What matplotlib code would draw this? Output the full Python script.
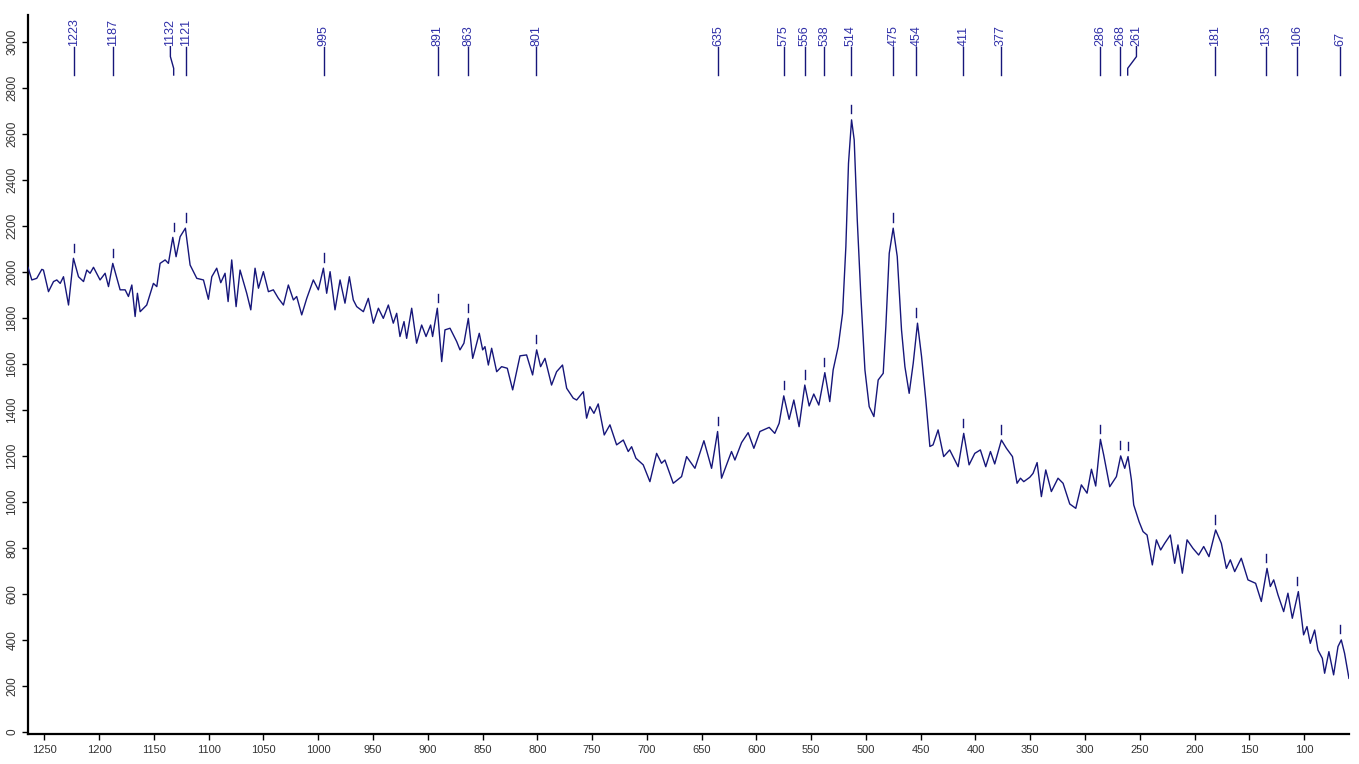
import numpy as np
import matplotlib.pyplot as plt

# Raman shift (cm-1) and counts, high shift -> low shift
WAVENUMBER = [
    1265, 1261.5, 1257, 1252.4, 1250.9, 1246.3, 1241.7, 1238.7, 1235.6, 1232.6,
    1228, 1223.5, 1218.9, 1214.3, 1211.3, 1208.3, 1205.2, 1199.2, 1194.6, 1191.5,
    1187.6, 1180.9, 1176.3, 1173.3, 1170.2, 1167.2, 1165.1, 1162.6, 1156.6, 1150.5,
    1147.4, 1144.4, 1139.8, 1136.8, 1132.8, 1129.8, 1126.1, 1121.3, 1117, 1110.9,
    1104.8, 1100.3, 1097.2, 1092.7, 1089, 1085.1, 1082.3, 1079, 1075, 1071.4,
    1065.3, 1061.6, 1057.7, 1054.6, 1050.1, 1045.5, 1041, 1036.4, 1031.8, 1027.3,
    1022.7, 1019.7, 1015.1, 1010.5, 1004.5, 999.9, 995.3, 992.3, 989.2, 984.7,
    980.1, 975.6, 971.6, 968, 964.9, 958.8, 954.3, 949.7, 945.1, 940.6,
    936, 931.5, 928.4, 925.4, 921.7, 919.3, 914.7, 910.2, 905.6, 901.6,
    897.4, 895.6, 891.3, 887.3, 884.3, 879.7, 873.6, 870.6, 867, 863,
    859, 856.9, 853, 849.9, 847.8, 844.7, 841.7, 837.1, 832.6, 827.4,
    822.5, 815.8, 809.8, 804.3, 800.6, 797, 793, 787, 782.4, 777,
    773.2, 767.2, 764.1, 761.7, 758, 755, 752, 748.3, 744.4, 738.9,
    733.7, 727.6, 721.5, 717, 713.9, 710, 703.3, 697.2, 691.1, 686.6,
    683.5, 675.9, 668.3, 663.7, 656.1, 647.9, 640.9, 635.4, 631.8, 627.2,
    622.7, 619.6, 613.5, 607.5, 602.3, 596.8, 588.3, 583.2, 579.2, 575,
    570.1, 565.8, 561, 555.8, 551.8, 547.6, 543, 537.5, 533, 529.9,
    525.3, 521.3, 518.3, 515.9, 513.1, 510.7, 507.9, 504.6, 500.9, 497,
    492.7, 488.8, 484.2, 481.8, 478.7, 475.1, 471.4, 467.5, 464.4, 460.5,
    456.8, 452.9, 449.2, 445.3, 441.6, 438.7, 434.1, 429, 423.5, 415.8,
    410.7, 405.8, 400.6, 395.5, 390.6, 386.3, 382.4, 376.3, 371.7, 366.2,
    362, 358.9, 355.9, 350.4, 347.4, 343.7, 339.8, 335.8, 330.7, 324.6,
    320, 313.9, 308.4, 303.3, 298.1, 294.1, 290.2, 285.9, 282.9, 277.4,
    271.3, 267.4, 263.7, 260.7, 257.6, 255.5, 250.6, 247, 243.3, 238.5,
    234.8, 230.9, 227.2, 222.1, 218.1, 215.1, 211.1, 206.8, 201.4, 196.2,
    191.6, 186.8, 180.7, 175.5, 170.9, 167.3, 163.3, 157.3, 151.2, 144.2,
    139, 133.8, 130.8, 127.7, 123.8, 118.6, 114.7, 110.7, 105.2, 100.4,
    97.3, 94.3, 90.3, 87.3, 83.3, 81.2, 77.3, 73, 69, 66,
    63, 59,
]

COUNTS = [
    2019, 1964, 1971, 2010, 2007, 1913, 1957, 1964, 1949, 1978,
    1855, 2058, 1978, 1957, 2007, 1993, 2019, 1964, 1993, 1935,
    2036, 1921, 1921, 1892, 1942, 1805, 1906, 1826, 1855, 1949,
    1935, 2036, 2051, 2036, 2149, 2065, 2152, 2189, 2029, 1971,
    1964, 1880, 1978, 2015, 1952, 1993, 1870, 2051, 1848, 2007,
    1906, 1834, 2015, 1928, 2000, 1913, 1921, 1884, 1855, 1942,
    1877, 1892, 1812, 1884, 1964, 1921, 2015, 1906, 2000, 1834,
    1964, 1863, 1978, 1877, 1848, 1826, 1884, 1776, 1841, 1797,
    1855, 1776, 1819, 1718, 1783, 1710, 1841, 1689, 1768, 1718,
    1768, 1718, 1841, 1609, 1747, 1754, 1696, 1660, 1689, 1797,
    1623, 1660, 1732, 1660, 1674, 1594, 1667, 1565, 1587, 1580,
    1486, 1634, 1638, 1551, 1660, 1587, 1623, 1507, 1565, 1594,
    1493, 1450, 1442, 1456, 1478, 1363, 1413, 1384, 1425, 1290,
    1334, 1247, 1268, 1218, 1239, 1189, 1160, 1087, 1210, 1167,
    1181, 1080, 1109, 1196, 1145, 1265, 1145, 1305, 1102, 1160,
    1218, 1181, 1257, 1300, 1232, 1305, 1323, 1297, 1341, 1460,
    1358, 1442, 1326, 1507, 1416, 1468, 1420, 1561, 1435, 1573,
    1674, 1819, 2109, 2471, 2660, 2573, 2225, 1892, 1573, 1413,
    1370, 1529, 1558, 1761, 2080, 2189, 2066, 1747, 1587, 1471,
    1602, 1776, 1631, 1442, 1240, 1247, 1312, 1196, 1225, 1152,
    1297, 1160, 1210, 1225, 1152, 1218, 1164, 1268, 1232, 1196,
    1080, 1102, 1087, 1106, 1123, 1170, 1022, 1138, 1044, 1102,
    1080, 990, 971, 1073, 1037, 1141, 1068, 1271, 1203, 1065,
    1109, 1199, 1145, 1196, 1094, 986, 913, 870, 855, 725,
    834, 790, 819, 855, 732, 812, 689, 834, 797, 768,
    805, 761, 877, 819, 710, 747, 696, 754, 660, 645,
    566, 710, 631, 660, 595, 522, 602, 493, 609, 421,
    457, 384, 442, 355, 319, 254, 348, 247, 370, 399,
    341, 232,
]

# picked peak positions (cm-1)
PEAKS = [1223, 1187, 1132, 1121, 995, 891, 863, 801, 635, 575, 556, 538,
         514, 475, 454, 411, 377, 286, 268, 261, 181, 135, 106, 67]

X_TICKS = list(range(1250, 99, -50))
Y_TICKS = list(range(0, 3001, 200))

# labels pushed sideways so crowded numbers don't collide
LABEL_NUDGE = {1132: 3.0, 261: -8.0}

LINE = "#16167a"
LABEL = "#3030a8"
TICKTXT = "#333333"

plt.rcParams["font.family"] = ["Liberation Sans", "DejaVu Sans"]

wn = np.array(WAVENUMBER, dtype=float)
cts = np.array(COUNTS, dtype=float)
assert wn.size == cts.size

fig = plt.figure(figsize=(13.59, 7.64), dpi=100)
ax = fig.add_axes([0.0206, 0.0393, 0.972, 0.9411])

ax.plot(wn, cts, color=LINE, lw=1.0, zorder=3)

# peak markers and the label strip along the top
y_base, y_k1, y_k2, y_top = 2855, 2884, 2935, 2978
for p in PEAKS:
    near = np.abs(wn - p) <= 2.5
    h = cts[near].max() if near.any() else np.interp(p, wn[::-1], cts[::-1])
    ax.plot([p, p], [h + 28, h + 64], color=LINE, lw=1.0, zorder=3)

    xt = p + LABEL_NUDGE.get(p, 0.0)
    if xt == p:
        ax.plot([p, p], [y_base, y_top], color=LINE, lw=1.0)
    else:
        ax.plot([p, p, xt, xt], [y_base, y_k1, y_k2, y_top], color=LINE, lw=1.0)
    ax.text(xt, y_top + 2, str(p), rotation=90, ha="center", va="bottom",
            fontsize=9, color=LABEL)

ax.set_xlim(1265, 59)
ax.set_ylim(-10, 3116)
ax.set_xticks(X_TICKS)
ax.set_yticks(Y_TICKS)

for side in ("top", "right"):
    ax.spines[side].set_visible(False)
for side in ("left", "bottom"):
    ax.spines[side].set_linewidth(1.6)
    ax.spines[side].set_color("black")

ax.tick_params(axis="x", direction="out", length=4, width=1.0, pad=4,
               labelsize=8, labelcolor=TICKTXT)
ax.tick_params(axis="y", direction="out", length=4, width=1.0, pad=3,
               labelsize=8.5, labelcolor=TICKTXT, labelrotation=90)
for lbl in ax.get_yticklabels():
    lbl.set_va("center")

fig.savefig("out.png", dpi=100)
